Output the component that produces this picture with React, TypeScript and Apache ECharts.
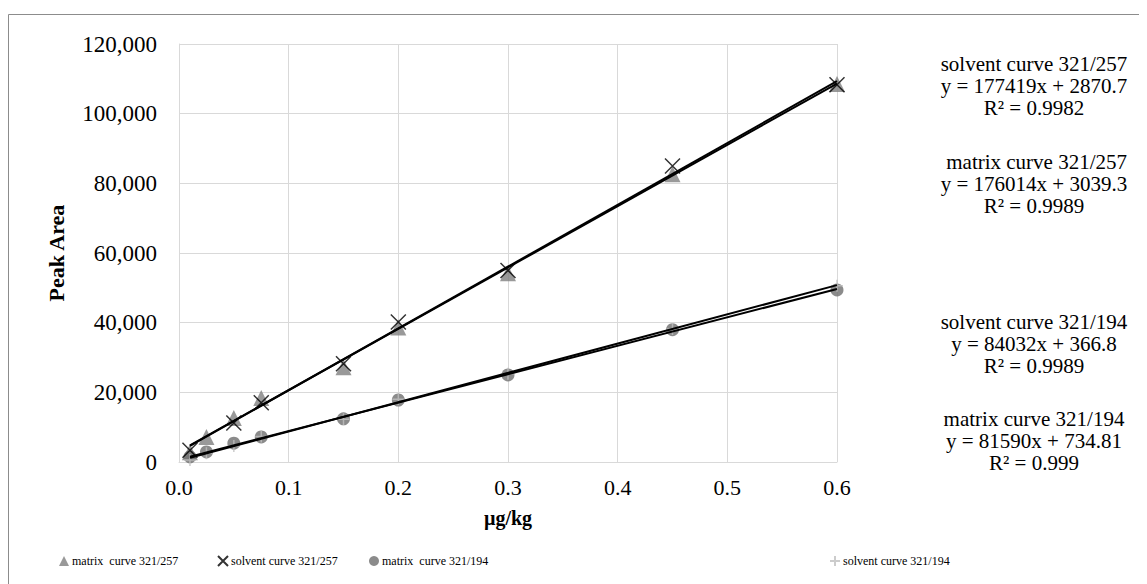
import React, { useEffect, useRef } from "react";
import * as echarts from "echarts";

// concentrations (µg/kg)
const concentrations = [0.01, 0.025, 0.05, 0.075, 0.15, 0.2, 0.3, 0.45, 0.6];
const solventConc257 = [0.01, 0.05, 0.075, 0.15, 0.2, 0.3, 0.45, 0.6];

// peak areas
const matrix257 = [2800, 7200, 12600, 18400, 27200, 38600, 54200, 82600, 108500];
const solvent257 = [3400, 11200, 17000, 28200, 40200, 55000, 85000, 108300];
const matrix194 = [1500, 2900, 5400, 7200, 12400, 17800, 25000, 38000, 49400];
const solvent194 = [600, 2500, 4600, 7300, 12300, 18000, 25300, 38200, 50600];

// series names
const seriesNames = [
  "matrix  curve 321/257",
  "solvent curve 321/257",
  "matrix  curve 321/194",
  "solvent curve 321/194",
];

// trendline annotations (order: solvent 257, matrix 257, solvent 194, matrix 194)
const trendLabels = ["solvent curve 321/257", " matrix curve 321/257", "solvent curve 321/194", "matrix curve 321/194"];
const trendSlopes = [177419, 176014, 84032, 81590];
const trendIntercepts = [2870.7, 3039.3, 366.8, 734.81];
const trendR2 = ["0.9982", "0.9989", "0.9989", "0.999"];

const FONT = "'Liberation Serif', 'Times New Roman', serif";
const X_PATH = "path://M0,0L10,10M10,0L0,10";
const PLUS_PATH = "path://M5,0L5,10M0,5L10,5";

export default function App() {
  const ref = useRef<HTMLDivElement>(null);

  useEffect(() => {
    if (!ref.current) return;
    const chart = echarts.init(ref.current, undefined, { renderer: "svg" });

    const trendX = [concentrations[0], concentrations[concentrations.length - 1]];
    const trendLine = (i: number) =>
      trendX.map((x) => [x, trendSlopes[i] * x + trendIntercepts[i]]);

    const annotCenterX = 1026;
    const blockMids = [78, 176, 336, 433];
    const annotTexts = trendLabels.map((lab, i) => ({
      type: "text",
      x: annotCenterX,
      y: blockMids[i],
      style: {
        text: [lab, `y = ${trendSlopes[i]}x + ${trendIntercepts[i]}`, `R² = ${trendR2[i]}`].join("\n"),
        fill: "#000",
        font: `21px ${FONT}`,
        lineHeight: 22,
        textAlign: "center",
        textVerticalAlign: "middle",
      },
    }));

    const legendLefts = [49, 207, 359, 819];

    chart.setOption({
      animation: false,
      textStyle: { fontFamily: FONT },
      grid: { left: 171, top: 36, width: 658, height: 418, containLabel: false },
      xAxis: {
        type: "value",
        min: 0,
        max: 0.6,
        interval: 0.1,
        name: "µg/kg",
        nameLocation: "middle",
        nameGap: 46,
        nameTextStyle: { fontFamily: FONT, fontSize: 20, fontWeight: "bold", color: "#000" },
        axisLine: { show: true, lineStyle: { color: "#d9d9d9", width: 1 } },
        axisTick: { show: false },
        splitLine: { show: true, lineStyle: { color: "#d9d9d9", width: 1 } },
        axisLabel: {
          fontFamily: FONT,
          fontSize: 22,
          color: "#000",
          margin: 14,
          formatter: (v: number) => v.toFixed(1),
        },
      },
      yAxis: {
        type: "value",
        min: 0,
        max: 120000,
        interval: 20000,
        name: "Peak Area",
        nameLocation: "middle",
        nameGap: 112,
        nameTextStyle: { fontFamily: FONT, fontSize: 22, fontWeight: "bold", color: "#000" },
        axisLine: { show: true, lineStyle: { color: "#d9d9d9", width: 1 } },
        axisTick: { show: false },
        splitLine: { show: true, lineStyle: { color: "#d9d9d9", width: 1 } },
        axisLabel: {
          fontFamily: FONT,
          fontSize: 23,
          color: "#000",
          margin: 22,
          formatter: (v: number) => v.toLocaleString("en-US"),
        },
      },
      legend: seriesNames.map((n, i) => ({
        data: [n],
        left: legendLefts[i] + 2,
        top: 547,
        itemWidth: 10,
        itemHeight: 10,
        padding: 0,
        textStyle: { fontFamily: FONT, fontSize: 12, color: "#000", padding: [0, 0, 0, -2] },
      })),
      series: [
        {
          name: seriesNames[0],
          type: "scatter",
          symbol: "triangle",
          symbolSize: 16,
          itemStyle: { color: "#808080" },
          data: concentrations.map((x, i) => [x, matrix257[i]]),
          z: 2,
        },
        {
          name: seriesNames[1],
          type: "scatter",
          symbol: X_PATH,
          symbolSize: 15,
          itemStyle: { color: "rgba(0,0,0,0)", borderColor: "#000", borderWidth: 1.5 },
          data: solventConc257.map((x, i) => [x, solvent257[i]]),
          z: 3,
        },
        {
          name: seriesNames[2],
          type: "scatter",
          symbol: "circle",
          symbolSize: 13,
          itemStyle: { color: "#6e6e6e" },
          data: concentrations.map((x, i) => [x, matrix194[i]]),
          z: 2,
        },
        {
          name: seriesNames[3],
          type: "scatter",
          symbol: PLUS_PATH,
          symbolSize: 12,
          itemStyle: { color: "rgba(0,0,0,0)", borderColor: "#bfbfbf", borderWidth: 1.5 },
          data: concentrations.map((x, i) => [x, solvent194[i]]),
          z: 3,
        },
        ...[0, 1, 2, 3].map((i) => ({
          name: "trend" + i,
          type: "line",
          showSymbol: false,
          symbol: "none",
          lineStyle: { color: "#000", width: 2 },
          data: trendLine(i),
          z: 5,
          silent: true,
        })),
      ],
      graphic: [
        {
          type: "rect",
          shape: { x: 0.5, y: 6.5, width: 1400, height: 800 },
          style: { fill: "none", stroke: "#8c8c8c", lineWidth: 1 },
          silent: true,
        },
        ...annotTexts,
      ],
    });

    return () => chart.dispose();
  }, []);

  return <div ref={ref} style={{ width: 1139, height: 576 }} />;
}
